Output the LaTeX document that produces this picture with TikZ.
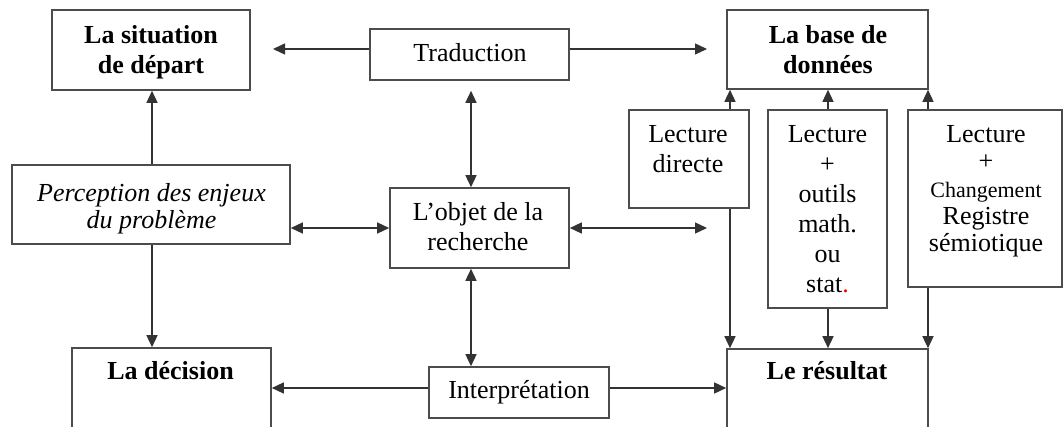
\documentclass[tikz,border=0pt]{standalone}
\usepackage{fontspec}
\setmainfont{Liberation Serif}
\usetikzlibrary{arrows.meta}

\begin{document}
\begin{tikzpicture}[x=1pt, y=-1pt,
  box/.style={draw=black!70, line width=1.6pt, rectangle, inner sep=0pt},
  txt/.style={inner sep=0pt, align=center, font=\fontsize{26}{30}\selectfont},
  tip/.tip={Triangle[length=12pt, width=11pt]},
  arr/.style={draw=black!80, line width=1.4pt, -tip},
  darr/.style={draw=black!80, line width=1.4pt, tip-tip}]

\useasboundingbox (0,0) rectangle (1063,427);

% ---- boxes ----
\node[box, minimum width=198pt, minimum height=80pt] (sit)    at (151,50)     {};
\node[box, minimum width=199pt, minimum height=51pt] (trad)   at (469.5,54.5) {};
\node[box, minimum width=201pt, minimum height=79pt] (base)   at (827.5,49.5) {};
\node[box, minimum width=120pt, minimum height=98pt] (ldir)   at (689,159)    {};
\node[box, minimum width=119pt, minimum height=198pt] (lout)  at (827.5,209)  {};
\node[box, minimum width=154pt, minimum height=177pt] (lchg)  at (985,198.5)  {};
\node[box, minimum width=278pt, minimum height=79pt] (perc)   at (151,204.5)  {};
\node[box, minimum width=179pt, minimum height=80pt] (obj)    at (479.5,228)  {};
\node[box, minimum width=180pt, minimum height=51pt] (interp) at (519,392.5)  {};
\node[box, minimum width=199pt, minimum height=84pt] (dec)    at (171.5,390)  {};
\node[box, minimum width=201pt, minimum height=83pt] (res)    at (827.5,390.5){};

% ---- texts ----
\node[txt, anchor=north, font=\fontsize{26}{30}\selectfont\bfseries] (tsit) at (151,25.5) {La situation\\de départ};
\node[txt, anchor=base] (ttrad) at (470,62) {Traduction};
\node[txt, anchor=north, font=\fontsize{26}{30}\selectfont\bfseries] (tbase) at (828,25.5) {La base de\\données};
\node[txt, anchor=north] (tldir) at (688,125.5) {Lecture\\directe};
\node[txt, anchor=north] (tlout) at (827.5,125.5) {Lecture\\+\\outils\\math.\\ou\\stat{\color{red}.}};
\node[txt, anchor=north, font=\fontsize{26}{27.2}\selectfont] (tlchg) at (986,125.5)
  {Lecture\\+\\{\fontsize{22}{27.2}\selectfont Changement}\\Registre\\sémiotique};
\node[txt, anchor=north, font=\fontsize{26}{27}\selectfont\itshape] (tperc) at (151.5,183) {Perception des enjeux\\du problème};
\node[txt, anchor=north] (tobj) at (478,202.5) {L’objet de la\\recherche};
\node[txt, anchor=base] (tinterp) at (519,399) {Interprétation};
\node[txt, anchor=base, font=\fontsize{26}{30}\selectfont\bfseries] (tdec) at (170.5,380) {La décision};
\node[txt, anchor=base, font=\fontsize{26}{30}\selectfont\bfseries] (tres) at (827,380) {Le résultat};

% ---- connectors ----
% Traduction to both sides
\coordinate (tw) at ([yshift=5.5pt]trad.west);
\coordinate (te) at ([yshift=5.5pt]trad.east);
\coordinate (sitArr) at (273,49);
\coordinate (baseArr) at (707,49);
\draw[arr] (tw) -- (sitArr);
\draw[arr] (te) -- (baseArr);

% central vertical axis
\coordinate (ts) at ([xshift=1.5pt]trad.south);
\draw[darr, shorten <=10pt] (ts) -- (ts |- obj.north);
\coordinate (os) at ([xshift=-8.5pt]obj.south);
\draw[darr] (os) -- (os |- interp.north);

% horizontal through L'objet de la recherche
\draw[darr] (perc.east |- obj.west) -- (obj.west);
\coordinate (objArr) at (707,228);
\draw[darr] (obj.east) -- (objArr);

% Interprétation to both sides
\coordinate (iw) at ([yshift=4.5pt]interp.west);
\coordinate (ie) at ([yshift=4.5pt]interp.east);
\draw[arr] (iw) -- (dec.east |- iw);
\draw[arr] (ie) -- (res.west |- ie);

% left column
\coordinate (pn) at ([xshift=1pt]perc.north);
\coordinate (ps) at ([xshift=1pt]perc.south);
\draw[arr] (pn) -- (pn |- sit.south);
\draw[arr] (ps) -- (ps |- dec.north);

% reading boxes: up to the data base, down to the result
\coordinate (a1) at ([xshift=41pt]ldir.north);
\coordinate (b1) at ([xshift=41pt]ldir.south);
\coordinate (a2) at ([xshift=0.5pt]lout.north);
\coordinate (b2) at ([xshift=0.5pt]lout.south);
\coordinate (a3) at ([xshift=-57pt]lchg.north);
\coordinate (b3) at ([xshift=-57pt]lchg.south);
\draw[arr] (a1) -- (a1 |- base.south);
\draw[arr] (b1) -- (b1 |- res.north);
\draw[arr] (a2) -- (a2 |- base.south);
\draw[arr] (b2) -- (b2 |- res.north);
\draw[arr] (a3) -- (a3 |- base.south);
\draw[arr] (b3) -- (b3 |- res.north);
\end{tikzpicture}
\end{document}
